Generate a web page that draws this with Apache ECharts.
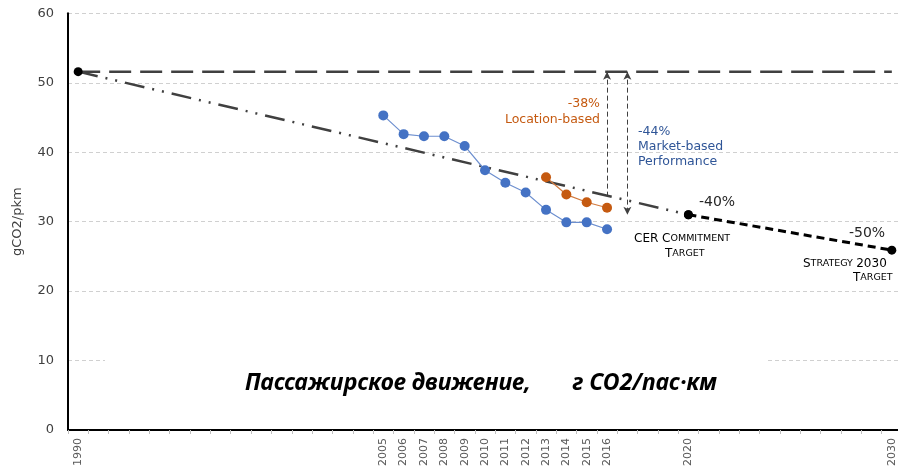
<!DOCTYPE html>
<html><head><meta charset="utf-8">
<script src="https://cdn.jsdelivr.net/npm/echarts@6/dist/echarts.min.js"></script>
<style>html,body{margin:0;padding:0;background:#fff;overflow:hidden}#c{width:902px;height:469px}</style>
</head><body><div id="c"></div>
<script>
// ---- data ----
var years = [];
for (var y = 1990; y <= 2030; y++) years.push(String(y));
var labelYears = ['1990','2005','2006','2007','2008','2009','2010','2011','2012','2013','2014','2015','2016','2020','2030'];
var yTicks = [0, 10, 20, 30, 40, 50, 60];
var baseline = 51.6;
var marketYears = ['2005','2006','2007','2008','2009','2010','2011','2012','2013','2014','2015','2016'];
var marketValues = [45.3, 42.6, 42.3, 42.3, 40.9, 37.4, 35.6, 34.2, 31.7, 29.9, 29.9, 28.9];
var locationYears = ['2013','2014','2015','2016'];
var locationValues = [36.4, 33.9, 32.8, 32.0];
var trendYears = ['1990','2020'];
var trendValues = [51.6, 31.0];
var targetYears = ['2020','2030'];
var targetValues = [31.0, 25.9];
var locArrow = [['2016', 51.6], ['2016', 33.8]];
var mktArrow = [['2017', 51.6], ['2017', 31.0]];

function pairs(xs, vs){ return xs.map(function(x,i){ return [x, vs[i]]; }); }

var chart = echarts.init(document.getElementById('c'));
var txt = '#262626';
var sc = { a: { fontSize: 12, fontFamily: 'DejaVu Sans', color: txt }, b: { fontSize: 9.5, fontFamily: 'DejaVu Sans', color: txt } };
chart.setOption({
  animation: false,
  title: {
    text: 'Пассажирское движение,       г CO2/пас·км',
    left: 105, top: 350,
    backgroundColor: '#fff',
    padding: [22, 50, 10, 140],
    textStyle: { fontFamily: 'Noto Sans', fontStyle: 'italic', fontWeight: 'bold', fontSize: 23, color: '#000' }
  },
  grid: { left: 68, right: 0, top: 13.3, bottom: 35.7, containLabel: false },
  xAxis: {
    type: 'category', data: years, boundaryGap: true,
    axisLine: { lineStyle: { color: '#000', width: 2 } },
    axisTick: { show: true, interval: 0, length: 4, lineStyle: { color: '#bfbfbf' } },
    axisLabel: {
      interval: 0, rotate: 90, fontSize: 11, color: '#595959', fontFamily: 'DejaVu Sans', margin: 8,
      formatter: function(v){ return labelYears.indexOf(v) >= 0 ? v : ''; }
    },
    splitLine: { show: false }
  },
  yAxis: {
    type: 'value', min: 0, max: 60, interval: 10,
    name: 'gCO2/pkm', nameLocation: 'middle', nameGap: 44, nameRotate: 90,
    nameTextStyle: { fontSize: 13, color: '#404040', fontFamily: 'DejaVu Sans' },
    axisLine: { show: true, lineStyle: { color: '#000', width: 2 } },
    axisTick: { show: false },
    axisLabel: { fontSize: 13, color: '#404040', fontFamily: 'DejaVu Sans', margin: 14 },
    splitLine: { show: true, lineStyle: { color: '#d0d0d0', type: [4, 3], width: 1 } }
  },
  series: [
    { type: 'line', z: 1, data: pairs(['1990','2030'], [baseline, baseline]), symbol: 'none',
      lineStyle: { color: '#404040', width: 2.5, type: [22, 9] } },
    { type: 'line', z: 3, data: pairs(trendYears, trendValues), symbol: 'circle', symbolSize: 9,
      itemStyle: { color: '#000' },
      lineStyle: { color: '#404040', width: 2.5, type: [20, 8, 2, 8, 2, 8] },
      markLine: {
        silent: true, symbol: ['arrow', 'none'], symbolSize: [6, 8],
        label: { show: false },
        lineStyle: { color: '#404040', width: 1, type: [5, 3] },
        data: [
          [{ coord: locArrow[0] }, { coord: locArrow[1] }],
          [{ coord: mktArrow[0], symbol: 'arrow' }, { coord: mktArrow[1], symbol: 'arrow' }]
        ]
      } },
    { type: 'line', z: 3, data: pairs(targetYears, targetValues), symbol: 'circle', symbolSize: 9,
      itemStyle: { color: '#000' },
      lineStyle: { color: '#000', width: 3, type: [8, 5] } },
    { type: 'line', z: 4, data: pairs(marketYears, marketValues), symbol: 'circle', symbolSize: 10,
      itemStyle: { color: '#4472C4' },
      lineStyle: { color: '#6d8fcf', width: 1.2 } },
    { type: 'line', z: 4, data: pairs(locationYears, locationValues), symbol: 'circle', symbolSize: 10,
      itemStyle: { color: '#C55A11' },
      lineStyle: { color: '#d27a3e', width: 1.2 } }
  ],
  graphic: [
    { type: 'text', x: 600, y: 96, style: { text: '-38%\nLocation-based', fill: '#C55A11', font: '12.5px "DejaVu Sans"', align: 'right', lineHeight: 16 } },
    { type: 'text', left: 638, top: 124, style: { text: '-44%\nMarket-based\nPerformance', fill: '#2F5597', font: '12.5px "DejaVu Sans"', lineHeight: 15 } },
    { type: 'text', left: 699, top: 195, style: { text: '-40%', fill: txt, font: '14px "DejaVu Sans"' } },
    { type: 'text', left: 849, top: 226, style: { text: '-50%', fill: txt, font: '14px "DejaVu Sans"' } },
    { type: 'text', left: 634, top: 233, style: { rich: sc, text: '{a|CER C}{b|OMMITMENT}' } },
    { type: 'text', left: 665, top: 248, style: { rich: sc, text: '{a|T}{b|ARGET}' } },
    { type: 'text', left: 803, top: 258, style: { rich: sc, text: '{a|S}{b|TRATEGY} {a|2030}' } },
    { type: 'text', left: 853, top: 272, style: { rich: sc, text: '{a|T}{b|ARGET}' } }
  ]
});
</script></body></html>
